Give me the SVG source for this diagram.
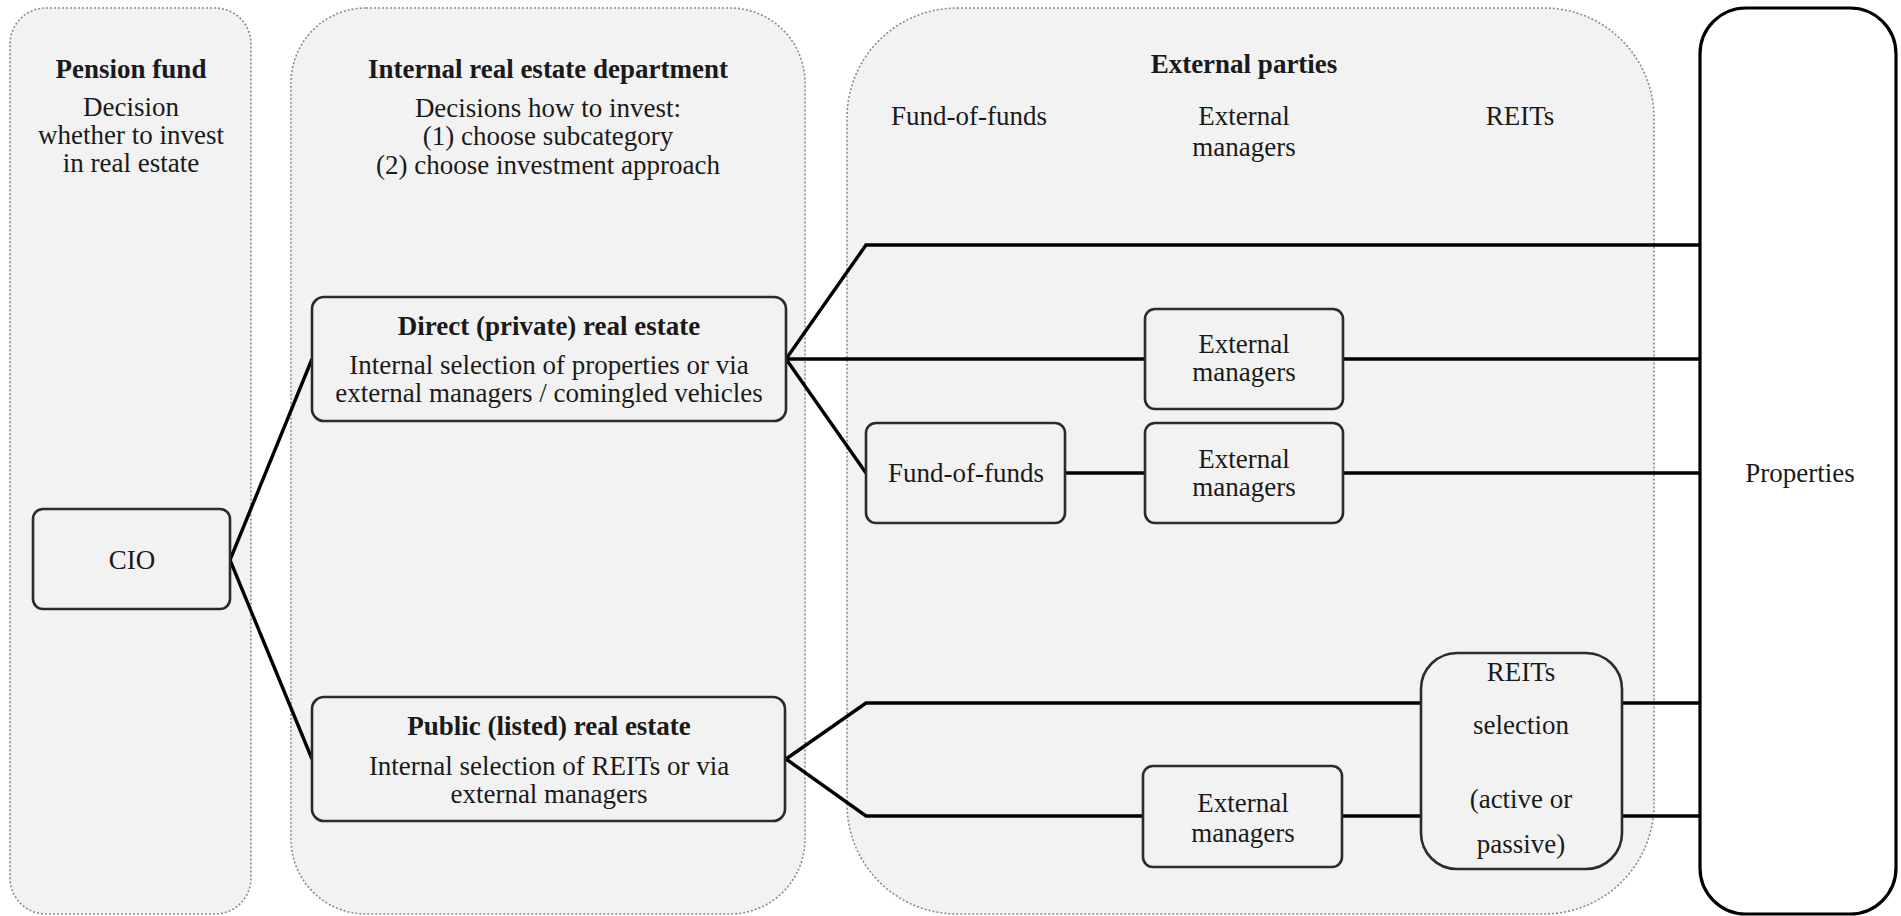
<svg xmlns="http://www.w3.org/2000/svg" width="1901" height="916" viewBox="0 0 1901 916">
<style>
.cont{fill:#f2f2f2;stroke:#8a8a8a;stroke-width:1.6;stroke-dasharray:2 2}
.box{fill:#f2f2f2;stroke:#2b2b2b;stroke-width:2.6}
.prop{fill:#ffffff;stroke:#000;stroke-width:3.2}
text{font-family:"Liberation Serif","Times New Roman",serif;font-size:27px;fill:#1a1a1a;text-anchor:middle}
.b{font-weight:bold}
.conn{fill:none;stroke:#000;stroke-width:3.4;stroke-linejoin:miter}
</style>
<g id="containers">
<rect id="pension-fund" class="cont" x="10" y="8" width="241" height="906" rx="36"/>
<rect id="internal-dept" class="cont" x="291" y="8" width="514" height="906" rx="75"/>
<rect id="external-parties" class="cont" x="847" y="8" width="807" height="906" rx="110"/>
</g>
<g id="headers">
<text class="b" x="131" y="78">Pension fund</text>
<text x="131" y="116">Decision</text>
<text x="131" y="144">whether to invest</text>
<text x="131" y="172">in real estate</text>
<text class="b" x="548" y="78">Internal real estate department</text>
<text x="548" y="117">Decisions how to invest:</text>
<text x="548" y="145">(1) choose subcategory</text>
<text x="548" y="174">(2) choose investment approach</text>
<text class="b" x="1244" y="73">External parties</text>
<text x="969" y="125">Fund-of-funds</text>
<text x="1244" y="125">External</text>
<text x="1244" y="156">managers</text>
<text x="1520" y="125">REITs</text>
</g>
<g id="connectors">
<polyline class="conn" points="230,560 312,359"/>
<polyline class="conn" points="230,560 312,759"/>
<polyline class="conn" points="786,359 866,245 1702,245"/>
<polyline class="conn" points="786,359 1145,359"/>
<polyline class="conn" points="1343,359 1702,359"/>
<polyline class="conn" points="786,359 866,473"/>
<polyline class="conn" points="1065,473 1145,473"/>
<polyline class="conn" points="1343,473 1702,473"/>
<polyline class="conn" points="786,759 866,703 1421,703"/>
<polyline class="conn" points="1622,703 1702,703"/>
<polyline class="conn" points="786,759 866,816 1143,816"/>
<polyline class="conn" points="1342,816 1421,816"/>
<polyline class="conn" points="1622,816 1702,816"/>
</g>
<g id="properties">
<rect class="prop" x="1700" y="8" width="196" height="906" rx="46"/>
<text x="1800" y="482">Properties</text>
</g>
<g id="cio">
<rect class="box" x="33" y="509" width="197" height="100" rx="10"/>
<text x="132" y="569">CIO</text>
</g>
<g id="direct">
<rect class="box" x="312" y="297" width="474" height="124" rx="12"/>
<text class="b" x="549" y="335">Direct (private) real estate</text>
<text x="549" y="374">Internal selection of properties or via</text>
<text x="549" y="402">external managers / comingled vehicles</text>
</g>
<g id="public">
<rect class="box" x="312" y="697" width="473" height="124" rx="12"/>
<text class="b" x="549" y="735">Public (listed) real estate</text>
<text x="549" y="775">Internal selection of REITs or via</text>
<text x="549" y="803">external managers</text>
</g>
<g id="ext-mgr-1">
<rect class="box" x="1145" y="309" width="198" height="100" rx="10"/>
<text x="1244" y="353">External</text>
<text x="1244" y="381">managers</text>
</g>
<g id="fund-of-funds">
<rect class="box" x="866" y="423" width="199" height="100" rx="10"/>
<text x="966" y="482">Fund-of-funds</text>
</g>
<g id="ext-mgr-2">
<rect class="box" x="1145" y="423" width="198" height="100" rx="10"/>
<text x="1244" y="468">External</text>
<text x="1244" y="496">managers</text>
</g>
<g id="ext-mgr-3">
<rect class="box" x="1143" y="766" width="199" height="101" rx="10"/>
<text x="1243" y="812">External</text>
<text x="1243" y="842">managers</text>
</g>
<g id="reits-selection">
<rect class="box" x="1421" y="653" width="201" height="216" rx="36"/>
<text x="1521" y="681">REITs</text>
<text x="1521" y="734">selection</text>
<text x="1521" y="808">(active or</text>
<text x="1521" y="853">passive)</text>
</g>
</svg>
